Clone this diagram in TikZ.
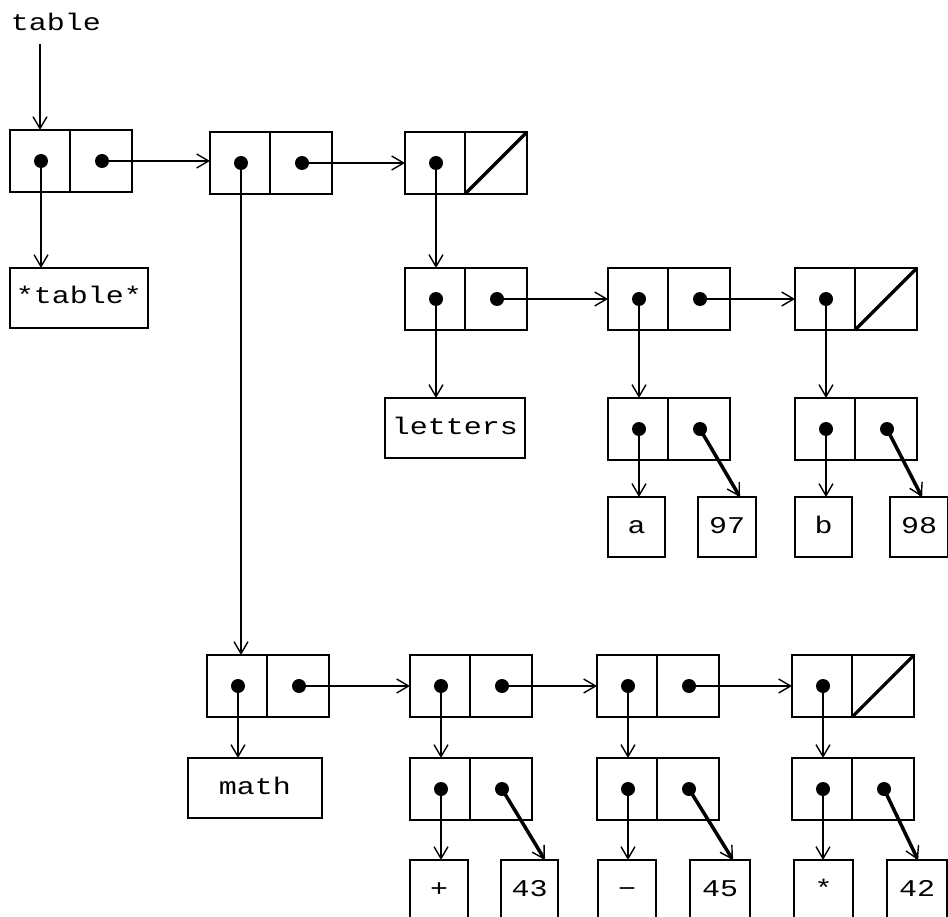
\documentclass[tikz,border=0pt]{standalone}
\usepackage{fontspec}
\setmonofont{Liberation Mono}[FakeStretch=1.25]
\usetikzlibrary{arrows.meta,calc}
\tikzset{
  cellbox/.style={draw, line width=2.4pt, minimum width=122pt, minimum height=62pt, inner sep=0pt, outer sep=0pt, anchor=north west},
  leaf/.style={draw, line width=2.4pt, inner sep=0pt, outer sep=0pt, anchor=north west, minimum height=60pt, font=\ttfamily\fontsize{24}{24}\selectfont, text height=16pt, text depth=4pt},
  lbl/.style={inner sep=0pt, font=\ttfamily\fontsize{24}{24}\selectfont},
  ptr/.style={line width=1.7pt, -{Straight Barb[length=12pt,width=14pt,line width=1.4pt]}},
  fatptr/.style={line width=3.5pt, -{Straight Barb[length=12pt,width=14pt,line width=1.4pt]}},
  divline/.style={line width=2.2pt},
  nilline/.style={line width=3.2pt}
}
\newcommand\mkcell[3]{%
  \node[cellbox] (#1) at (#2,#3) {};
  \draw[divline] ($(#1.north west)+(60,0)$) -- ($(#1.south west)+(60,0)$);
  \coordinate (#1a) at ($(#1.north west)+(31,31)$);
  \coordinate (#1d) at ($(#1.north west)+(92,31)$);
  \fill (#1a) circle[radius=7pt];
}
\newcommand\cdrdot[1]{\fill (#1d) circle[radius=7pt];}
\newcommand\nilslash[1]{\draw[nilline] ($(#1.south west)+(60,0)$) -- (#1.north east);}
\begin{document}
\begin{tikzpicture}[x=1pt,y=-1pt]
\useasboundingbox (0,0) rectangle (948,917);
\clip (0,0) rectangle (948,917);

% cons cells
\mkcell{c1}{10}{130}
\mkcell{c2}{210}{132}
\mkcell{c3}{405}{132}
\mkcell{c4}{405}{268}
\mkcell{c5}{608}{268}
\mkcell{c6}{795}{268}
\mkcell{c7}{608}{398}
\mkcell{c8}{795}{398}
\mkcell{c9}{207}{655}
\mkcell{c10}{410}{655}
\mkcell{c11}{597}{655}
\mkcell{c12}{792}{655}
\mkcell{c13}{410}{758}
\mkcell{c14}{597}{758}
\mkcell{c15}{792}{758}
\cdrdot{c1}\cdrdot{c2}\cdrdot{c4}\cdrdot{c5}\cdrdot{c7}\cdrdot{c8}
\cdrdot{c9}\cdrdot{c10}\cdrdot{c11}\cdrdot{c13}\cdrdot{c14}\cdrdot{c15}
\nilslash{c3}\nilslash{c6}\nilslash{c12}

% labels and leaves
\node[lbl] (tbl) at (56,22) {table};
\coordinate (tstart) at (40,44);
\node[leaf, minimum width=138pt] (ltable) at (10,268) {*table*};
\node[leaf, minimum width=140pt] (lletters) at (385,398) {letters};
\node[leaf, minimum width=134pt] (lmath) at (188,758) {math};
\node[leaf, minimum width=57pt] (la) at (608,497) {a};
\node[leaf, minimum width=58pt] (l97) at (698,497) {97};
\node[leaf, minimum width=57pt] (lb) at (795,497) {b};
\node[leaf, minimum width=58pt] (l98) at (890,497) {98};
\node[leaf, minimum width=58pt] (lplus) at (410,860) {+};
\node[leaf, minimum width=57pt] (l43) at (501,860) {43};
\node[leaf, minimum width=58pt] (lminus) at (598,860) {−};
\node[leaf, minimum width=60pt] (l45) at (690,860) {45};
\node[leaf, minimum width=59pt] (lstar) at (794,860) {*};
\node[leaf, minimum width=60pt] (l42) at (887,860) {42};

% pointers
\draw[ptr] (tstart) -- (tstart |- c1.north);
\draw[ptr] (c1a) -- (c1a |- ltable.north);
\draw[ptr] (c1d) -- (c1d -| c2.west);
\draw[ptr] (c2a) -- (c2a |- c9.north);
\draw[ptr] (c2d) -- (c2d -| c3.west);
\draw[ptr] (c3a) -- (c3a |- c4.north);
\draw[ptr] (c4a) -- (c4a |- lletters.north);
\draw[ptr] (c4d) -- (c4d -| c5.west);
\draw[ptr] (c5d) -- (c5d -| c6.west);
\draw[ptr] (c5a) -- (c5a |- c7.north);
\draw[ptr] (c6a) -- (c6a |- c8.north);
\draw[ptr] (c7a) -- (c7a |- la.north);
\draw[fatptr] (c7d) -- ($(l97.north west)+(42,0)$);
\draw[ptr] (c8a) -- (c8a |- lb.north);
\draw[fatptr] (c8d) -- ($(l98.north west)+(32,0)$);
\draw[ptr] (c9a) -- (c9a |- lmath.north);
\draw[ptr] (c9d) -- (c9d -| c10.west);
\draw[ptr] (c10d) -- (c10d -| c11.west);
\draw[ptr] (c11d) -- (c11d -| c12.west);
\draw[ptr] (c10a) -- (c10a |- c13.north);
\draw[ptr] (c11a) -- (c11a |- c14.north);
\draw[ptr] (c12a) -- (c12a |- c15.north);
\draw[ptr] (c13a) -- (c13a |- lplus.north);
\draw[fatptr] (c13d) -- ($(l43.north west)+(44,0)$);
\draw[ptr] (c14a) -- (c14a |- lminus.north);
\draw[fatptr] (c14d) -- ($(l45.north west)+(43,0)$);
\draw[ptr] (c15a) -- (c15a |- lstar.north);
\draw[fatptr] (c15d) -- ($(l42.north west)+(31,0)$);
\end{tikzpicture}
\end{document}
